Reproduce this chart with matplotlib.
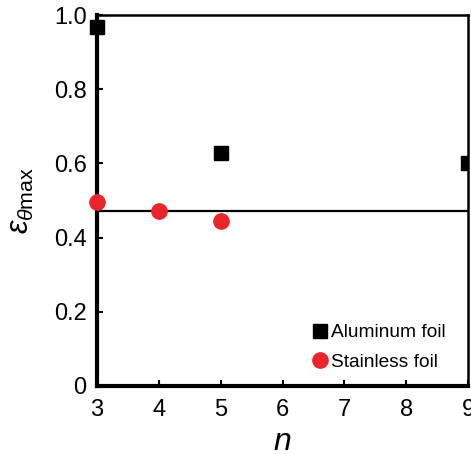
import matplotlib
matplotlib.use("Agg")
import matplotlib.pyplot as plt
from matplotlib.patches import Rectangle

plt.rcParams['font.family'] = ['Liberation Sans', 'DejaVu Sans']
plt.rcParams['mathtext.fontset'] = 'custom'
plt.rcParams['mathtext.it'] = 'Liberation Sans:italic'
plt.rcParams['mathtext.rm'] = 'Liberation Sans'

# data
n_alu = [3, 5, 9]
eps_alu = [0.968, 0.628, 0.600]
n_sus = [3, 4, 5]
eps_sus = [0.496, 0.472, 0.445]
ref_level = 0.472  # horizontal line

x_ticks = [3, 4, 5, 6, 7, 8, 9]
y_ticks = [0, 0.2, 0.4, 0.6, 0.8, 1.0]
y_tick_labels = ['0', '0.2', '0.4', '0.6', '0.8', '1.0']

fig = plt.figure(figsize=(4.71, 4.55), dpi=100)
ax = fig.add_axes([97 / 471, 1 - 386 / 455, (468 - 97) / 471, (386 - 15) / 455])

ax.axhline(ref_level, color='black', lw=1.6, zorder=1)

red = '#e8262b'
alu, = ax.plot(n_alu, eps_alu, 's', color='black', ms=9.5, ls='none',
               label='Aluminum foil', zorder=3)
sus, = ax.plot(n_sus, eps_sus, 'o', color=red, ms=11, ls='none',
               label='Stainless foil', zorder=3)

# markers spill over the left spine but get cut at the right one
clip = Rectangle((-0.1, -0.1), 1.1, 1.2, transform=ax.transAxes,
                 facecolor='none', edgecolor='none')
ax.add_patch(clip)
alu.set_clip_path(clip)
sus.set_clip_path(clip)

ax.set_xlim(3, 9)
ax.set_ylim(0, 1.0)
ax.set_xticks(x_ticks)
ax.set_yticks(y_ticks)
ax.set_yticklabels(y_tick_labels)
ax.tick_params(direction='in', length=4, width=1.5, labelsize=17)
ax.tick_params(axis='x', pad=9)
ax.tick_params(axis='y', pad=7.5)

ax.spines['left'].set_linewidth(3)
ax.spines['bottom'].set_linewidth(3)
ax.spines['top'].set_linewidth(1.8)
ax.spines['right'].set_linewidth(1.8)

ax.set_xlabel('n', fontsize=23, style='italic', labelpad=5)
ax.set_ylabel(r'$\varepsilon_{\theta\mathrm{max}}$', fontsize=22, labelpad=13)

ax.legend(handles=[alu, sus], loc='lower right', bbox_to_anchor=(0.972, 0.01),
          frameon=False, fontsize=13.8, handlelength=0.6, handletextpad=0.3,
          labelspacing=0.62, borderaxespad=0.2)

fig.savefig('out.png', dpi=100)
